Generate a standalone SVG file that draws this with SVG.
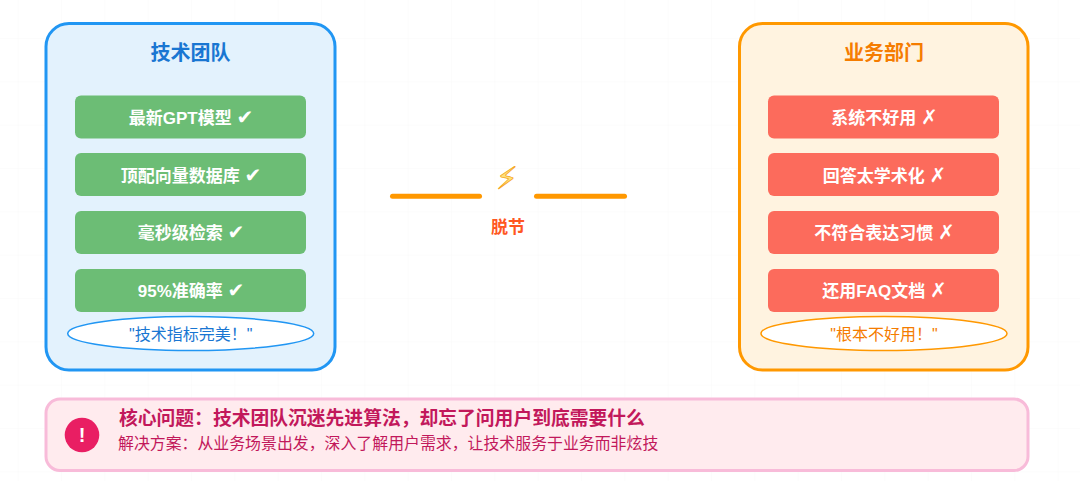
<svg xmlns="http://www.w3.org/2000/svg" width="1080" height="481" viewBox="0 0 1080 481">
<style>
text{font-family:"Liberation Sans","Noto Sans CJK SC",sans-serif;text-anchor:middle}
.panel{stroke-width:3}
.item{stroke:none}
.g{fill:#6CBD75}
.r{fill:#FC6B5C}
.it{font-size:17px;font-weight:700;fill:#fff}
.title{font-size:20px;font-weight:700}
.bub{fill:#fff;stroke-width:1.5}
.say{font-size:16px}
.mk{font-family:"DejaVu Sans",sans-serif;font-size:20px}
</style>
<defs>
<pattern id="grid" x="17.7" y="-5.3" width="43.33" height="43.33" patternUnits="userSpaceOnUse">
<path d="M0 0V43.33M0 0H43.33" fill="none" stroke="#F9F9F9" stroke-width="1"/>
</pattern>
</defs>
<rect width="1080" height="481" fill="#fff"/>
<rect width="1080" height="481" fill="url(#grid)"/>
<g id="tech-team">
<rect class="panel" x="46" y="23.500" width="289" height="346.500" rx="23" fill="#E3F2FD" stroke="#2196F3"/>
<text class="title" x="190.500" y="59.500" fill="#1976D2">技术团队</text>
</g>
<g id="tech-1"><rect class="item g" x="75" y="95.500" width="231" height="43" rx="6"/><text class="it" x="191" y="124">最新GPT模型 <tspan class="mk">✔</tspan></text></g>
<g id="tech-2"><rect class="item g" x="75" y="153" width="231" height="43" rx="6"/><text class="it" x="191" y="181.500">顶配向量数据库 <tspan class="mk">✔</tspan></text></g>
<g id="tech-3"><rect class="item g" x="75" y="211" width="231" height="43" rx="6"/><text class="it" x="191" y="239">毫秒级检索 <tspan class="mk">✔</tspan></text></g>
<g id="tech-4"><rect class="item g" x="75" y="269" width="231" height="43" rx="6"/><text class="it" x="191" y="297">95%准确率 <tspan class="mk">✔</tspan></text></g>
<g id="tech-quote"><ellipse class="bub" cx="190.700" cy="333.500" rx="123" ry="17" stroke="#2196F3"/><text class="say" x="190.700" y="339.500" fill="#1976D2">"技术指标完美！"</text></g>
<g id="business">
<rect class="panel" x="739.500" y="23.500" width="288.500" height="346.500" rx="23" fill="#FFF3E0" stroke="#FF9800"/>
<text class="title" x="884" y="59.500" fill="#F57C00">业务部门</text>
</g>
<g id="biz-1"><rect class="item r" x="768" y="95.500" width="231" height="43" rx="6"/><text class="it" x="884.500" y="124">系统不好用 <tspan class="mk">✗</tspan></text></g>
<g id="biz-2"><rect class="item r" x="768" y="153" width="231" height="43" rx="6"/><text class="it" x="884.500" y="181.500">回答太学术化 <tspan class="mk">✗</tspan></text></g>
<g id="biz-3"><rect class="item r" x="768" y="211" width="231" height="43" rx="6"/><text class="it" x="884.500" y="239">不符合表达习惯 <tspan class="mk">✗</tspan></text></g>
<g id="biz-4"><rect class="item r" x="768" y="269" width="231" height="43" rx="6"/><text class="it" x="884.500" y="297">还用FAQ文档 <tspan class="mk">✗</tspan></text></g>
<g id="biz-quote"><ellipse class="bub" cx="884" cy="333.500" rx="123" ry="17" stroke="#FF9800"/><text class="say" x="884" y="339.500" fill="#F57C00">"根本不好用！"</text></g>
<g id="connectors" stroke="#FF9800" stroke-width="5" stroke-linecap="round" fill="none">
<path d="M392.500 196.200H479.500"/>
<path d="M536.500 196.200H624.500"/>
</g>
<g id="gap">
<text x="507" y="189" class="mk" style="font-size:31px" fill="#FFE27A" stroke="#F5A623" stroke-width=".8">⚡</text>
<text x="508" y="232.500" font-size="17" font-weight="700" fill="#FF5722">脱节</text>
</g>
<g id="core-issue">
<rect x="46" y="399" width="982" height="71.500" rx="14" fill="#FFEBEE" stroke="#F8BBD9" stroke-width="3"/>
<circle cx="82" cy="435" r="17.300" fill="#E91E63"/>
<text x="82" y="442" font-size="20" font-weight="700" fill="#fff">!</text>
<text x="119" y="425" font-size="18.800" font-weight="700" fill="#C2185B" style="text-anchor:start">核心问题：技术团队沉迷先进算法，却忘了问用户到底需要什么</text>
<text x="118" y="449" font-size="15.900" fill="#C2185B" style="text-anchor:start">解决方案：从业务场景出发，深入了解用户需求，让技术服务于业务而非炫技</text>
</g>
</svg>
